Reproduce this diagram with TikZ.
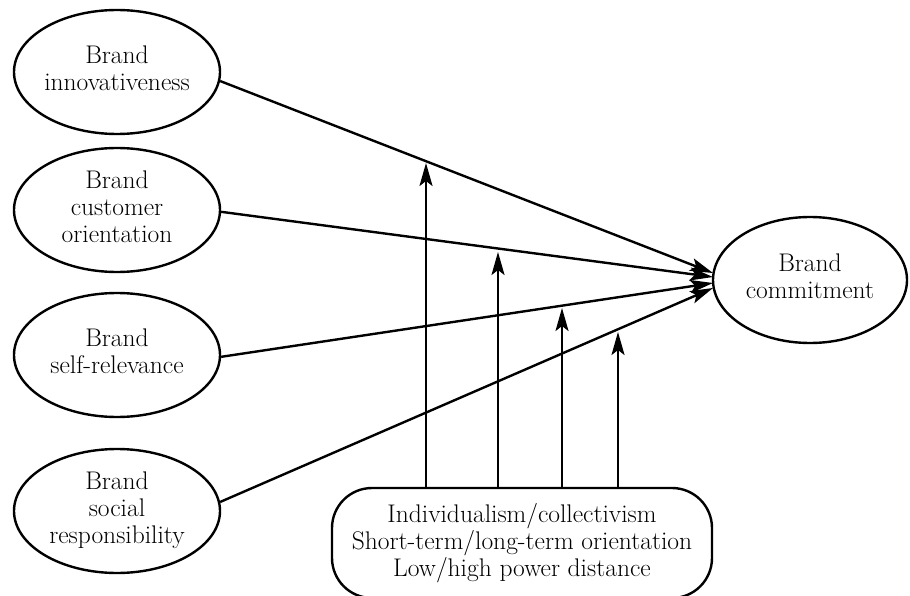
\documentclass[tikz,border=0pt]{standalone}
\usetikzlibrary{shapes.geometric,arrows.meta}
\newcommand\ovaltext[1]{\makebox[0pt]{\begin{tabular}{@{}c@{}}#1\end{tabular}}}
\begin{document}
\begin{tikzpicture}[x=1pt,y=-1pt,
  txt/.style={font=\fontsize{25.5}{27}\selectfont},
  oval/.style={ellipse, draw, line width=2.4pt, inner sep=0pt,
    minimum width=206pt, minimum height=124pt, txt},
  goal/.style={ellipse, draw, line width=2.4pt, inner sep=0pt,
    minimum width=194pt, minimum height=126pt, txt},
  modbox/.style={draw, line width=2.4pt, rounded corners=40pt, inner sep=0pt,
    minimum width=380pt, minimum height=110pt, align=center, txt},
  conn/.style={line width=2.4pt, -{Stealth[length=23pt,width=13pt,inset=5pt]}},
]
\useasboundingbox (0,0) rectangle (910,596);

\node[oval] (e1) at (117,72) {\ovaltext{Brand\\innovativeness}};
\node[oval] (e2) at (117,210) {\ovaltext{Brand\\customer\\orientation}};
\node[oval] (e3) at (117,355) {\ovaltext{Brand\\self-relevance}};
\node[oval] (e4) at (117,511) {\ovaltext{Brand\\social\\responsibility}};
\node[goal] (bc) at (810,280) {\ovaltext{Brand\\commitment}};
\node[modbox] (mod) at (522,543) {Individualism/collectivism\\Short-term/long-term orientation\\Low/high power distance};

\coordinate (t1) at (713,273);
\coordinate (t2) at (713,277);
\coordinate (t3) at (713,283);
\coordinate (t4) at (713,288);

\draw[conn] (e1.-5) -- (t1);
\draw[conn] (e2.-1) -- (t2);
\draw[conn] (e3.-1) -- (t3);
\draw[conn] (e4.5) -- (t4);

\coordinate (m1) at (426,163);
\coordinate (m2) at (498,252);
\coordinate (m3) at (562,308);
\coordinate (m4) at (618,332);

\draw[conn] (mod.north -| m1) -- (m1);
\draw[conn] (mod.north -| m2) -- (m2);
\draw[conn] (mod.north -| m3) -- (m3);
\draw[conn] (mod.north -| m4) -- (m4);
\end{tikzpicture}
\end{document}
